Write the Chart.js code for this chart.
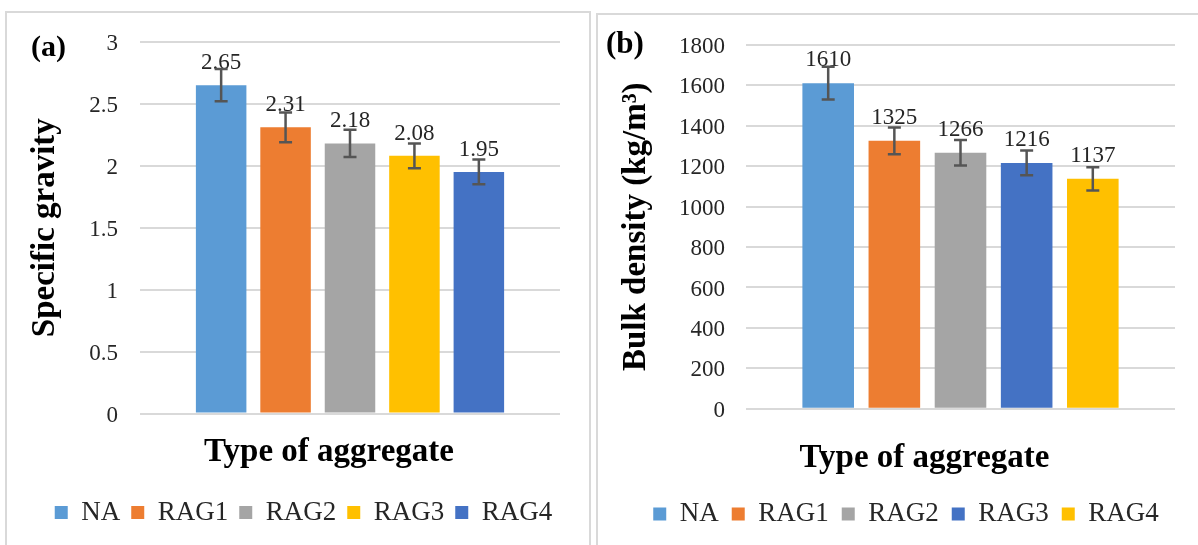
<!DOCTYPE html>
<html lang="en">
<head>
  <meta charset="UTF-8" />
  <title>Specific gravity and bulk density of aggregates</title>
  <script src="https://cdn.jsdelivr.net/npm/chart.js@4.4.0/dist/chart.umd.min.js"></script>
  <style>
    html, body { margin: 0; padding: 0; background: #fff; overflow: hidden; }
    body { width: 1198px; height: 545px; position: relative; font-family: "Liberation Serif", "Times New Roman", serif; }
    .frame { position: absolute; box-sizing: border-box; border: 2px solid #d9d9d9; }
    .box { position: absolute; }
    .tag { position: absolute; font-weight: bold; font-size: 30px; line-height: 30px; color: #000; }
  </style>
</head>
<body>
  <div class="frame" style="left:5px;top:11px;width:586px;height:600px"></div>
  <div class="frame" style="left:596px;top:13px;width:620px;height:600px"></div>
  <div class="box" style="left:6px;top:6px;width:595px;height:539px"><canvas id="gravity"></canvas></div>
  <div class="box" style="left:599px;top:9.5px;width:614px;height:535.5px"><canvas id="density"></canvas></div>
  <div class="tag" style="left:31px;top:31px">(a)</div>
  <div class="tag" style="left:606px;top:28px;font-size:31px">(b)</div>
  <script>
    const aggregates = ['NA', 'RAG1', 'RAG2', 'RAG3', 'RAG4'];
    const gravity = [2.65, 2.31, 2.18, 2.08, 1.95];
    const gravityErr = [0.13, 0.12, 0.11, 0.10, 0.10];
    const density = [1610, 1325, 1266, 1216, 1137];
    const densityErr = [81, 66, 63, 61, 57];
    const gravityTicks = [0, 3, 0.5];    // min, max, step
    const densityTicks = [0, 1800, 200];
    const xTitle = 'Type of aggregate';

    // RAG3 / RAG4 swap colours between the two panels in the figure
    const gravityColors = ['#5b9bd5', '#ed7d31', '#a5a5a5', '#ffc000', '#4472c4'];
    const densityColors = ['#5b9bd5', '#ed7d31', '#a5a5a5', '#4472c4', '#ffc000'];

    const serif = 'Liberation Serif';
    const ink = '#262626';

    // value labels above each bar, error bars over them, and the x title
    // (which sits left of the plot centre in the figure)
    const barExtras = {
      id: 'barExtras',
      afterDatasetsDraw(chart, args, opts) {
        const { ctx, chartArea } = chart;
        const y = chart.scales.y;
        ctx.save();
        ctx.font = '23px "' + serif + '"';
        ctx.fillStyle = ink;
        ctx.textAlign = 'center';
        ctx.textBaseline = 'alphabetic';
        chart.data.datasets.forEach((ds, i) => {
          const bar = chart.getDatasetMeta(i).data[0];
          ctx.fillText(String(ds.data[0]), bar.x, bar.y - opts.gap);
        });
        ctx.strokeStyle = '#555';
        ctx.lineWidth = 2.5;
        chart.data.datasets.forEach((ds, i) => {
          const bar = chart.getDatasetMeta(i).data[0];
          const v = ds.data[0], e = opts.errors[i];
          const top = y.getPixelForValue(v + e), bot = y.getPixelForValue(v - e);
          ctx.beginPath();
          ctx.moveTo(bar.x, top); ctx.lineTo(bar.x, bot);
          ctx.moveTo(bar.x - 6.5, top); ctx.lineTo(bar.x + 6.5, top);
          ctx.moveTo(bar.x - 6.5, bot); ctx.lineTo(bar.x + 6.5, bot);
          ctx.stroke();
        });
        ctx.font = 'bold 33px "' + serif + '"';
        ctx.fillStyle = '#000';
        ctx.textBaseline = 'middle';
        ctx.fillText(opts.title, (chartArea.left + chartArea.right) / 2 + opts.titleShift,
          chartArea.bottom + opts.titleDrop);
        ctx.restore();
      }
    };

    function makeChart(id, values, errors, colors, ticks, yTitle, lay) {
      return new Chart(document.getElementById(id), {
        type: 'bar',
        data: {
          labels: [''],
          datasets: aggregates.map((name, i) => ({
            label: name,
            data: [values[i]],
            backgroundColor: colors[i],
            yAxisID: 'y',
            categoryPercentage: lay.cat,
            barPercentage: lay.bar
          }))
        },
        options: {
          responsive: true,
          maintainAspectRatio: false,
          animation: false,
          layout: { padding: { top: 0, bottom: lay.bottom, left: 0, right: 0 } },
          scales: {
            x: {
              grid: { display: false },
              border: { display: false },
              ticks: { display: false },
              afterFit: s => { s.height = lay.xHeight; }
            },
            y: {
              min: ticks[0], max: ticks[1],
              ticks: {
                stepSize: ticks[2], padding: lay.tickPad, color: ink, labelOffset: 2,
                font: { family: serif, size: 23 },
                callback: v => String(v)
              },
              grid: { color: '#d9d9d9', lineWidth: 2, drawTicks: false },
              border: { display: false },
              title: {
                display: true, text: yTitle, color: '#000',
                font: { family: serif, size: 33, weight: 'bold' },
                padding: { top: lay.yTitlePad, bottom: 0 }
              },
              afterFit: s => { s.width = lay.yWidth; }
            },
            // empty strip on the right so the legend centres like the figure
            spare: {
              position: 'right',
              grid: { display: false },
              border: { display: false },
              ticks: { display: false },
              afterFit: s => { s.width = lay.rightWidth; }
            }
          },
          plugins: {
            legend: {
              position: 'bottom',
              labels: {
                boxWidth: 13, boxHeight: 13, padding: lay.legendPad, color: ink,
                font: { family: serif, size: 27 }
              }
            },
            tooltip: { enabled: false },
            barExtras: {
              errors: errors, gap: lay.gap, title: xTitle,
              titleShift: lay.titleShift, titleDrop: lay.titleDrop
            }
          }
        },
        plugins: [barExtras]
      });
    }

    makeChart('gravity', gravity, gravityErr, gravityColors, gravityTicks, 'Specific gravity', {
      bottom: 9, xHeight: 74.5, yWidth: 134, tickPad: 22, yTitlePad: 20, rightWidth: 41,
      legendPad: 11, cat: 0.767, bar: 0.784, gap: 16, titleShift: -21, titleDrop: 38.5
    });

    makeChart('density', density, densityErr, densityColors, densityTicks, 'Bulk density (kg/m\u00b3)', {
      bottom: 8, xHeight: 78.7, yWidth: 147, tickPad: 21, yTitlePad: 18, rightWidth: 38,
      legendPad: 13, cat: 0.771, bar: 0.78, gap: 17, titleShift: -36, titleDrop: 49.7
    });
  </script>
</body>
</html>
